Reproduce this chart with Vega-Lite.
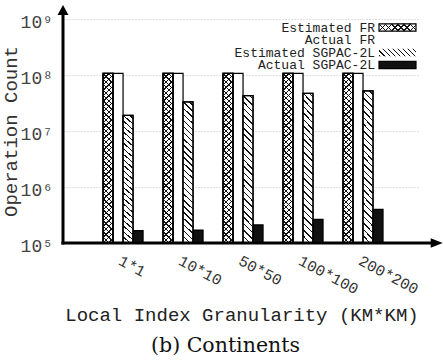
{
  "$schema": "https://vega.github.io/schema/vega-lite/v6.json",
  "width": 357,
  "height": 224,
  "autosize": "none",
  "padding": {"left": 63, "top": 19, "right": 23, "bottom": 117},
  "config": {
    "view": {"stroke": null},
    "font": "Liberation Mono",
    "legend": {
      "orient": "none",
      "legendX": 170,
      "direction": "vertical",
      "title": null,
      "padding": 0,
      "labelFont": "Liberation Mono",
      "labelFontSize": 13,
      "labelColor": "#222",
      "labelAlign": "right",
      "labelOffset": -29,
      "symbolOffset": 158,
      "symbolType": "M-5,-1H5V1H-5Z",
      "symbolSize": 54.76,
      "symbolStrokeColor": "#000",
      "symbolStrokeWidth": 1.2
    }
  },
  "title": {
    "text": "(b) Continents",
    "orient": "bottom",
    "anchor": "middle",
    "font": "DejaVu Serif",
    "fontSize": 20.5,
    "fontWeight": "normal",
    "color": "#111",
    "dx": -16,
    "offset": 12
  },
  "datasets": {
    "ops": [
      {"g": "1*1", "series": "Estimated FR", "value": 107000000},
      {"g": "1*1", "series": "Actual FR", "value": 107000000},
      {"g": "1*1", "series": "Estimated SGPAC-2L", "value": 19000000},
      {"g": "1*1", "series": "Actual SGPAC-2L", "value": 166000},
      {"g": "10*10", "series": "Estimated FR", "value": 107000000},
      {"g": "10*10", "series": "Actual FR", "value": 107000000},
      {"g": "10*10", "series": "Estimated SGPAC-2L", "value": 33000000},
      {"g": "10*10", "series": "Actual SGPAC-2L", "value": 170000},
      {"g": "50*50", "series": "Estimated FR", "value": 107000000},
      {"g": "50*50", "series": "Actual FR", "value": 107000000},
      {"g": "50*50", "series": "Estimated SGPAC-2L", "value": 43000000},
      {"g": "50*50", "series": "Actual SGPAC-2L", "value": 210000},
      {"g": "100*100", "series": "Estimated FR", "value": 107000000},
      {"g": "100*100", "series": "Actual FR", "value": 107000000},
      {"g": "100*100", "series": "Estimated SGPAC-2L", "value": 47000000},
      {"g": "100*100", "series": "Actual SGPAC-2L", "value": 265000},
      {"g": "200*200", "series": "Estimated FR", "value": 107000000},
      {"g": "200*200", "series": "Actual FR", "value": 107000000},
      {"g": "200*200", "series": "Estimated SGPAC-2L", "value": 52000000},
      {"g": "200*200", "series": "Actual SGPAC-2L", "value": 400000}
    ]
  },
  "layer": [
    {
      "data": {"name": "ops"},
      "encoding": {
        "x": {
          "field": "g",
          "type": "nominal",
          "sort": null,
          "scale": {"domain": ["1*1", "10*10", "50*50", "100*100", "200*200"], "paddingInner": 0.333, "paddingOuter": 0.642, "align": 0.52},
          "axis": {
            "title": "Local Index Granularity (KM*KM)",
            "titleFont": "Liberation Mono",
            "titleFontSize": 19,
            "titleFontWeight": "normal",
            "titleColor": "#222",
            "titleY": 77,
            "titleBaseline": "alphabetic",
            "labelAngle": 28,
            "labelAlign": "left",
            "labelBaseline": "top",
            "labelPadding": 10,
            "labelFont": "Liberation Mono",
            "labelFontSize": 15.5,
            "labelColor": "#333",
            "labelOverlap": false,
            "labelBound": false,
            "domain": false,
            "ticks": false,
            "grid": false
          }
        },
        "xOffset": {
          "field": "series",
          "type": "nominal",
          "scale": {"domain": ["Estimated FR", "Actual FR", "Estimated SGPAC-2L", "Actual SGPAC-2L"], "paddingInner": 0, "paddingOuter": 0}
        },
        "y": {
          "field": "value",
          "type": "quantitative",
          "scale": {"type": "log", "domain": [100000, 1000000000], "nice": false},
          "axis": {
            "title": "Operation Count",
            "titleFont": "Liberation Mono",
            "titleFontSize": 19,
            "titleFontWeight": "normal",
            "titleColor": "#333",
            "titleX": -53,
            "titleBaseline": "middle",
            "values": [100000, 1000000, 10000000, 100000000, 1000000000],
            "labelExpr": "'10' + ['⁰','¹','²','³','⁴','⁵','⁶','⁷','⁸','⁹'][round(log(datum.value) / LN10)]",
            "labelFont": "Liberation Mono",
            "labelFontSize": 18,
            "labelColor": "#444",
            "labelPadding": 10.5,
            "labelOffset": 3,
            "domain": false,
            "ticks": false,
            "tickSize": 0,
            "grid": true,
            "gridColor": "#b0b0b0",
            "gridDash": [1, 2],
            "gridWidth": 0.8
          }
        },
        "y2": {"datum": 100000}
      },
      "layer": [
        {
          "mark": {"type": "bar", "stroke": "#000", "strokeWidth": 1.2},
          "encoding": {
            "fill": {
              "field": "series",
              "type": "nominal",
              "scale": {"domain": ["Estimated FR", "Actual FR", "Estimated SGPAC-2L", "Actual SGPAC-2L"], "range": ["#fff", "#fff", "#fff", "#111"]},
              "legend": {"values": ["Actual SGPAC-2L"], "legendY": 39.5, "zindex": 1}
            }
          }
        },
        {
          "transform": [{"filter": "datum.series === 'Estimated SGPAC-2L'"}],
          "mark": {
            "type": "bar",
            "stroke": "#000",
            "strokeWidth": 1.2,
            "fill": {"gradient": "linear", "x1": 0, "y1": 1, "x2": 0.0743, "y2": -0.0776, "stops": [
              {"offset": 0, "color": "#111"}, {"offset": 0.0095, "color": "#111"}, {"offset": 0.0095, "color": "transparent"}, {"offset": 0.04, "color": "transparent"},
              {"offset": 0.04, "color": "#111"}, {"offset": 0.0495, "color": "#111"}, {"offset": 0.0495, "color": "transparent"}, {"offset": 0.08, "color": "transparent"},
              {"offset": 0.08, "color": "#111"}, {"offset": 0.0895, "color": "#111"}, {"offset": 0.0895, "color": "transparent"}, {"offset": 0.12, "color": "transparent"},
              {"offset": 0.12, "color": "#111"}, {"offset": 0.1295, "color": "#111"}, {"offset": 0.1295, "color": "transparent"}, {"offset": 0.16, "color": "transparent"},
              {"offset": 0.16, "color": "#111"}, {"offset": 0.1695, "color": "#111"}, {"offset": 0.1695, "color": "transparent"}, {"offset": 0.2, "color": "transparent"},
              {"offset": 0.2, "color": "#111"}, {"offset": 0.2095, "color": "#111"}, {"offset": 0.2095, "color": "transparent"}, {"offset": 0.24, "color": "transparent"},
              {"offset": 0.24, "color": "#111"}, {"offset": 0.2495, "color": "#111"}, {"offset": 0.2495, "color": "transparent"}, {"offset": 0.28, "color": "transparent"},
              {"offset": 0.28, "color": "#111"}, {"offset": 0.2895, "color": "#111"}, {"offset": 0.2895, "color": "transparent"}, {"offset": 0.32, "color": "transparent"},
              {"offset": 0.32, "color": "#111"}, {"offset": 0.3295, "color": "#111"}, {"offset": 0.3295, "color": "transparent"}, {"offset": 0.36, "color": "transparent"},
              {"offset": 0.36, "color": "#111"}, {"offset": 0.3695, "color": "#111"}, {"offset": 0.3695, "color": "transparent"}, {"offset": 0.4, "color": "transparent"},
              {"offset": 0.4, "color": "#111"}, {"offset": 0.4095, "color": "#111"}, {"offset": 0.4095, "color": "transparent"}, {"offset": 0.44, "color": "transparent"},
              {"offset": 0.44, "color": "#111"}, {"offset": 0.4495, "color": "#111"}, {"offset": 0.4495, "color": "transparent"}, {"offset": 0.48, "color": "transparent"},
              {"offset": 0.48, "color": "#111"}, {"offset": 0.4895, "color": "#111"}, {"offset": 0.4895, "color": "transparent"}, {"offset": 0.52, "color": "transparent"},
              {"offset": 0.52, "color": "#111"}, {"offset": 0.5295, "color": "#111"}, {"offset": 0.5295, "color": "transparent"}, {"offset": 0.56, "color": "transparent"},
              {"offset": 0.56, "color": "#111"}, {"offset": 0.5695, "color": "#111"}, {"offset": 0.5695, "color": "transparent"}, {"offset": 0.6, "color": "transparent"},
              {"offset": 0.6, "color": "#111"}, {"offset": 0.6095, "color": "#111"}, {"offset": 0.6095, "color": "transparent"}, {"offset": 0.64, "color": "transparent"},
              {"offset": 0.64, "color": "#111"}, {"offset": 0.6495, "color": "#111"}, {"offset": 0.6495, "color": "transparent"}, {"offset": 0.68, "color": "transparent"},
              {"offset": 0.68, "color": "#111"}, {"offset": 0.6895, "color": "#111"}, {"offset": 0.6895, "color": "transparent"}, {"offset": 0.72, "color": "transparent"},
              {"offset": 0.72, "color": "#111"}, {"offset": 0.7295, "color": "#111"}, {"offset": 0.7295, "color": "transparent"}, {"offset": 0.76, "color": "transparent"},
              {"offset": 0.76, "color": "#111"}, {"offset": 0.7695, "color": "#111"}, {"offset": 0.7695, "color": "transparent"}, {"offset": 0.8, "color": "transparent"},
              {"offset": 0.8, "color": "#111"}, {"offset": 0.8095, "color": "#111"}, {"offset": 0.8095, "color": "transparent"}, {"offset": 0.84, "color": "transparent"},
              {"offset": 0.84, "color": "#111"}, {"offset": 0.8495, "color": "#111"}, {"offset": 0.8495, "color": "transparent"}, {"offset": 0.88, "color": "transparent"},
              {"offset": 0.88, "color": "#111"}, {"offset": 0.8895, "color": "#111"}, {"offset": 0.8895, "color": "transparent"}, {"offset": 0.92, "color": "transparent"},
              {"offset": 0.92, "color": "#111"}, {"offset": 0.9295, "color": "#111"}, {"offset": 0.9295, "color": "transparent"}, {"offset": 0.96, "color": "transparent"},
              {"offset": 0.96, "color": "#111"}, {"offset": 0.9695, "color": "#111"}, {"offset": 0.9695, "color": "transparent"}, {"offset": 1, "color": "transparent"}
            ]}
          }
        },
        {
          "transform": [{"filter": "datum.series === 'Estimated FR'"}],
          "mark": {
            "type": "bar",
            "stroke": "#000",
            "strokeWidth": 1.2,
            "fill": {"gradient": "linear", "x1": 0, "y1": 1, "x2": 0.0628, "y2": -0.0669, "stops": [
              {"offset": 0, "color": "#111"}, {"offset": 0.0075, "color": "#111"}, {"offset": 0.0075, "color": "transparent"}, {"offset": 0.03, "color": "transparent"},
              {"offset": 0.03, "color": "#111"}, {"offset": 0.0375, "color": "#111"}, {"offset": 0.0375, "color": "transparent"}, {"offset": 0.06, "color": "transparent"},
              {"offset": 0.06, "color": "#111"}, {"offset": 0.0675, "color": "#111"}, {"offset": 0.0675, "color": "transparent"}, {"offset": 0.09, "color": "transparent"},
              {"offset": 0.09, "color": "#111"}, {"offset": 0.0975, "color": "#111"}, {"offset": 0.0975, "color": "transparent"}, {"offset": 0.12, "color": "transparent"},
              {"offset": 0.12, "color": "#111"}, {"offset": 0.1275, "color": "#111"}, {"offset": 0.1275, "color": "transparent"}, {"offset": 0.15, "color": "transparent"},
              {"offset": 0.15, "color": "#111"}, {"offset": 0.1575, "color": "#111"}, {"offset": 0.1575, "color": "transparent"}, {"offset": 0.18, "color": "transparent"},
              {"offset": 0.18, "color": "#111"}, {"offset": 0.1875, "color": "#111"}, {"offset": 0.1875, "color": "transparent"}, {"offset": 0.21, "color": "transparent"},
              {"offset": 0.21, "color": "#111"}, {"offset": 0.2175, "color": "#111"}, {"offset": 0.2175, "color": "transparent"}, {"offset": 0.24, "color": "transparent"},
              {"offset": 0.24, "color": "#111"}, {"offset": 0.2475, "color": "#111"}, {"offset": 0.2475, "color": "transparent"}, {"offset": 0.27, "color": "transparent"},
              {"offset": 0.27, "color": "#111"}, {"offset": 0.2775, "color": "#111"}, {"offset": 0.2775, "color": "transparent"}, {"offset": 0.3, "color": "transparent"},
              {"offset": 0.3, "color": "#111"}, {"offset": 0.3075, "color": "#111"}, {"offset": 0.3075, "color": "transparent"}, {"offset": 0.33, "color": "transparent"},
              {"offset": 0.33, "color": "#111"}, {"offset": 0.3375, "color": "#111"}, {"offset": 0.3375, "color": "transparent"}, {"offset": 0.36, "color": "transparent"},
              {"offset": 0.36, "color": "#111"}, {"offset": 0.3675, "color": "#111"}, {"offset": 0.3675, "color": "transparent"}, {"offset": 0.39, "color": "transparent"},
              {"offset": 0.39, "color": "#111"}, {"offset": 0.3975, "color": "#111"}, {"offset": 0.3975, "color": "transparent"}, {"offset": 0.42, "color": "transparent"},
              {"offset": 0.42, "color": "#111"}, {"offset": 0.4275, "color": "#111"}, {"offset": 0.4275, "color": "transparent"}, {"offset": 0.45, "color": "transparent"},
              {"offset": 0.45, "color": "#111"}, {"offset": 0.4575, "color": "#111"}, {"offset": 0.4575, "color": "transparent"}, {"offset": 0.48, "color": "transparent"},
              {"offset": 0.48, "color": "#111"}, {"offset": 0.4875, "color": "#111"}, {"offset": 0.4875, "color": "transparent"}, {"offset": 0.51, "color": "transparent"},
              {"offset": 0.51, "color": "#111"}, {"offset": 0.5175, "color": "#111"}, {"offset": 0.5175, "color": "transparent"}, {"offset": 0.54, "color": "transparent"},
              {"offset": 0.54, "color": "#111"}, {"offset": 0.5475, "color": "#111"}, {"offset": 0.5475, "color": "transparent"}, {"offset": 0.57, "color": "transparent"},
              {"offset": 0.57, "color": "#111"}, {"offset": 0.5775, "color": "#111"}, {"offset": 0.5775, "color": "transparent"}, {"offset": 0.6, "color": "transparent"},
              {"offset": 0.6, "color": "#111"}, {"offset": 0.6075, "color": "#111"}, {"offset": 0.6075, "color": "transparent"}, {"offset": 0.63, "color": "transparent"},
              {"offset": 0.63, "color": "#111"}, {"offset": 0.6375, "color": "#111"}, {"offset": 0.6375, "color": "transparent"}, {"offset": 0.66, "color": "transparent"},
              {"offset": 0.66, "color": "#111"}, {"offset": 0.6675, "color": "#111"}, {"offset": 0.6675, "color": "transparent"}, {"offset": 0.69, "color": "transparent"},
              {"offset": 0.69, "color": "#111"}, {"offset": 0.6975, "color": "#111"}, {"offset": 0.6975, "color": "transparent"}, {"offset": 0.72, "color": "transparent"},
              {"offset": 0.72, "color": "#111"}, {"offset": 0.7275, "color": "#111"}, {"offset": 0.7275, "color": "transparent"}, {"offset": 0.75, "color": "transparent"},
              {"offset": 0.75, "color": "#111"}, {"offset": 0.7575, "color": "#111"}, {"offset": 0.7575, "color": "transparent"}, {"offset": 0.78, "color": "transparent"},
              {"offset": 0.78, "color": "#111"}, {"offset": 0.7875, "color": "#111"}, {"offset": 0.7875, "color": "transparent"}, {"offset": 0.81, "color": "transparent"},
              {"offset": 0.81, "color": "#111"}, {"offset": 0.8175, "color": "#111"}, {"offset": 0.8175, "color": "transparent"}, {"offset": 0.84, "color": "transparent"},
              {"offset": 0.84, "color": "#111"}, {"offset": 0.8475, "color": "#111"}, {"offset": 0.8475, "color": "transparent"}, {"offset": 0.87, "color": "transparent"},
              {"offset": 0.87, "color": "#111"}, {"offset": 0.8775, "color": "#111"}, {"offset": 0.8775, "color": "transparent"}, {"offset": 0.9, "color": "transparent"},
              {"offset": 0.9, "color": "#111"}, {"offset": 0.9075, "color": "#111"}, {"offset": 0.9075, "color": "transparent"}, {"offset": 0.93, "color": "transparent"},
              {"offset": 0.93, "color": "#111"}, {"offset": 0.9375, "color": "#111"}, {"offset": 0.9375, "color": "transparent"}, {"offset": 0.96, "color": "transparent"},
              {"offset": 0.96, "color": "#111"}, {"offset": 0.9675, "color": "#111"}, {"offset": 0.9675, "color": "transparent"}, {"offset": 0.99, "color": "transparent"},
              {"offset": 0.99, "color": "#111"}, {"offset": 0.9975, "color": "#111"}, {"offset": 0.9975, "color": "transparent"}, {"offset": 1, "color": "transparent"}
            ]}
          }
        },
        {
          "transform": [{"filter": "datum.series === 'Estimated FR'"}],
          "mark": {
            "type": "bar",
            "stroke": "#000",
            "strokeWidth": 1.2,
            "fill": {"gradient": "linear", "x1": 0, "y1": 0, "x2": 0.0628, "y2": 1.0669, "stops": [
              {"offset": 0, "color": "#111"}, {"offset": 0.0075, "color": "#111"}, {"offset": 0.0075, "color": "transparent"}, {"offset": 0.03, "color": "transparent"},
              {"offset": 0.03, "color": "#111"}, {"offset": 0.0375, "color": "#111"}, {"offset": 0.0375, "color": "transparent"}, {"offset": 0.06, "color": "transparent"},
              {"offset": 0.06, "color": "#111"}, {"offset": 0.0675, "color": "#111"}, {"offset": 0.0675, "color": "transparent"}, {"offset": 0.09, "color": "transparent"},
              {"offset": 0.09, "color": "#111"}, {"offset": 0.0975, "color": "#111"}, {"offset": 0.0975, "color": "transparent"}, {"offset": 0.12, "color": "transparent"},
              {"offset": 0.12, "color": "#111"}, {"offset": 0.1275, "color": "#111"}, {"offset": 0.1275, "color": "transparent"}, {"offset": 0.15, "color": "transparent"},
              {"offset": 0.15, "color": "#111"}, {"offset": 0.1575, "color": "#111"}, {"offset": 0.1575, "color": "transparent"}, {"offset": 0.18, "color": "transparent"},
              {"offset": 0.18, "color": "#111"}, {"offset": 0.1875, "color": "#111"}, {"offset": 0.1875, "color": "transparent"}, {"offset": 0.21, "color": "transparent"},
              {"offset": 0.21, "color": "#111"}, {"offset": 0.2175, "color": "#111"}, {"offset": 0.2175, "color": "transparent"}, {"offset": 0.24, "color": "transparent"},
              {"offset": 0.24, "color": "#111"}, {"offset": 0.2475, "color": "#111"}, {"offset": 0.2475, "color": "transparent"}, {"offset": 0.27, "color": "transparent"},
              {"offset": 0.27, "color": "#111"}, {"offset": 0.2775, "color": "#111"}, {"offset": 0.2775, "color": "transparent"}, {"offset": 0.3, "color": "transparent"},
              {"offset": 0.3, "color": "#111"}, {"offset": 0.3075, "color": "#111"}, {"offset": 0.3075, "color": "transparent"}, {"offset": 0.33, "color": "transparent"},
              {"offset": 0.33, "color": "#111"}, {"offset": 0.3375, "color": "#111"}, {"offset": 0.3375, "color": "transparent"}, {"offset": 0.36, "color": "transparent"},
              {"offset": 0.36, "color": "#111"}, {"offset": 0.3675, "color": "#111"}, {"offset": 0.3675, "color": "transparent"}, {"offset": 0.39, "color": "transparent"},
              {"offset": 0.39, "color": "#111"}, {"offset": 0.3975, "color": "#111"}, {"offset": 0.3975, "color": "transparent"}, {"offset": 0.42, "color": "transparent"},
              {"offset": 0.42, "color": "#111"}, {"offset": 0.4275, "color": "#111"}, {"offset": 0.4275, "color": "transparent"}, {"offset": 0.45, "color": "transparent"},
              {"offset": 0.45, "color": "#111"}, {"offset": 0.4575, "color": "#111"}, {"offset": 0.4575, "color": "transparent"}, {"offset": 0.48, "color": "transparent"},
              {"offset": 0.48, "color": "#111"}, {"offset": 0.4875, "color": "#111"}, {"offset": 0.4875, "color": "transparent"}, {"offset": 0.51, "color": "transparent"},
              {"offset": 0.51, "color": "#111"}, {"offset": 0.5175, "color": "#111"}, {"offset": 0.5175, "color": "transparent"}, {"offset": 0.54, "color": "transparent"},
              {"offset": 0.54, "color": "#111"}, {"offset": 0.5475, "color": "#111"}, {"offset": 0.5475, "color": "transparent"}, {"offset": 0.57, "color": "transparent"},
              {"offset": 0.57, "color": "#111"}, {"offset": 0.5775, "color": "#111"}, {"offset": 0.5775, "color": "transparent"}, {"offset": 0.6, "color": "transparent"},
              {"offset": 0.6, "color": "#111"}, {"offset": 0.6075, "color": "#111"}, {"offset": 0.6075, "color": "transparent"}, {"offset": 0.63, "color": "transparent"},
              {"offset": 0.63, "color": "#111"}, {"offset": 0.6375, "color": "#111"}, {"offset": 0.6375, "color": "transparent"}, {"offset": 0.66, "color": "transparent"},
              {"offset": 0.66, "color": "#111"}, {"offset": 0.6675, "color": "#111"}, {"offset": 0.6675, "color": "transparent"}, {"offset": 0.69, "color": "transparent"},
              {"offset": 0.69, "color": "#111"}, {"offset": 0.6975, "color": "#111"}, {"offset": 0.6975, "color": "transparent"}, {"offset": 0.72, "color": "transparent"},
              {"offset": 0.72, "color": "#111"}, {"offset": 0.7275, "color": "#111"}, {"offset": 0.7275, "color": "transparent"}, {"offset": 0.75, "color": "transparent"},
              {"offset": 0.75, "color": "#111"}, {"offset": 0.7575, "color": "#111"}, {"offset": 0.7575, "color": "transparent"}, {"offset": 0.78, "color": "transparent"},
              {"offset": 0.78, "color": "#111"}, {"offset": 0.7875, "color": "#111"}, {"offset": 0.7875, "color": "transparent"}, {"offset": 0.81, "color": "transparent"},
              {"offset": 0.81, "color": "#111"}, {"offset": 0.8175, "color": "#111"}, {"offset": 0.8175, "color": "transparent"}, {"offset": 0.84, "color": "transparent"},
              {"offset": 0.84, "color": "#111"}, {"offset": 0.8475, "color": "#111"}, {"offset": 0.8475, "color": "transparent"}, {"offset": 0.87, "color": "transparent"},
              {"offset": 0.87, "color": "#111"}, {"offset": 0.8775, "color": "#111"}, {"offset": 0.8775, "color": "transparent"}, {"offset": 0.9, "color": "transparent"},
              {"offset": 0.9, "color": "#111"}, {"offset": 0.9075, "color": "#111"}, {"offset": 0.9075, "color": "transparent"}, {"offset": 0.93, "color": "transparent"},
              {"offset": 0.93, "color": "#111"}, {"offset": 0.9375, "color": "#111"}, {"offset": 0.9375, "color": "transparent"}, {"offset": 0.96, "color": "transparent"},
              {"offset": 0.96, "color": "#111"}, {"offset": 0.9675, "color": "#111"}, {"offset": 0.9675, "color": "transparent"}, {"offset": 0.99, "color": "transparent"},
              {"offset": 0.99, "color": "#111"}, {"offset": 0.9975, "color": "#111"}, {"offset": 0.9975, "color": "transparent"}, {"offset": 1, "color": "transparent"}
            ]}
          }
        },
        {
          "transform": [{"filter": "datum.series === 'Estimated FR'"}],
          "mark": {
            "type": "bar",
            "stroke": "#000",
            "strokeWidth": 1.2,
            "fill": {"gradient": "linear", "x1": 0, "y1": 1, "x2": 1.154, "y2": 0.769, "stops": [
              {"offset": 0, "color": "#111"}, {"offset": 0.035, "color": "#111"}, {"offset": 0.035, "color": "#fff"}, {"offset": 0.14, "color": "#fff"},
              {"offset": 0.14, "color": "#111"}, {"offset": 0.175, "color": "#111"}, {"offset": 0.175, "color": "#fff"}, {"offset": 0.28, "color": "#fff"},
              {"offset": 0.28, "color": "#111"}, {"offset": 0.315, "color": "#111"}, {"offset": 0.315, "color": "#fff"}, {"offset": 0.42, "color": "#fff"},
              {"offset": 0.42, "color": "#111"}, {"offset": 0.455, "color": "#111"}, {"offset": 0.455, "color": "#fff"}, {"offset": 0.56, "color": "#fff"},
              {"offset": 0.56, "color": "#111"}, {"offset": 0.595, "color": "#111"}, {"offset": 0.595, "color": "#fff"}, {"offset": 0.7, "color": "#fff"},
              {"offset": 0.7, "color": "#111"}, {"offset": 0.735, "color": "#111"}, {"offset": 0.735, "color": "#fff"}, {"offset": 0.84, "color": "#fff"},
              {"offset": 0.84, "color": "#111"}, {"offset": 0.875, "color": "#111"}, {"offset": 0.875, "color": "#fff"}, {"offset": 0.98, "color": "#fff"},
              {"offset": 0.98, "color": "#111"}, {"offset": 1, "color": "#111"}
            ]}
          },
          "encoding": {
            "y": {"datum": 100000, "type": "quantitative"},
            "y2": {"datum": 100000},
            "stroke": {
              "field": "series",
              "type": "nominal",
              "scale": {"domain": ["Estimated FR"], "range": ["#000"]},
              "legend": {"legendY": 2, "zindex": 2}
            }
          }
        },
        {
          "transform": [{"filter": "datum.series === 'Estimated FR' && datum.g === '1*1'"}],
          "mark": {
            "type": "bar",
            "stroke": "#000",
            "strokeWidth": 1.2,
            "fill": {"gradient": "linear", "x1": 0, "y1": 0, "x2": 1.154, "y2": 0.2308, "stops": [
              {"offset": 0, "color": "#111"}, {"offset": 0.035, "color": "#111"}, {"offset": 0.035, "color": "transparent"}, {"offset": 0.14, "color": "transparent"},
              {"offset": 0.14, "color": "#111"}, {"offset": 0.175, "color": "#111"}, {"offset": 0.175, "color": "transparent"}, {"offset": 0.28, "color": "transparent"},
              {"offset": 0.28, "color": "#111"}, {"offset": 0.315, "color": "#111"}, {"offset": 0.315, "color": "transparent"}, {"offset": 0.42, "color": "transparent"},
              {"offset": 0.42, "color": "#111"}, {"offset": 0.455, "color": "#111"}, {"offset": 0.455, "color": "transparent"}, {"offset": 0.56, "color": "transparent"},
              {"offset": 0.56, "color": "#111"}, {"offset": 0.595, "color": "#111"}, {"offset": 0.595, "color": "transparent"}, {"offset": 0.7, "color": "transparent"},
              {"offset": 0.7, "color": "#111"}, {"offset": 0.735, "color": "#111"}, {"offset": 0.735, "color": "transparent"}, {"offset": 0.84, "color": "transparent"},
              {"offset": 0.84, "color": "#111"}, {"offset": 0.875, "color": "#111"}, {"offset": 0.875, "color": "transparent"}, {"offset": 0.98, "color": "transparent"},
              {"offset": 0.98, "color": "#111"}, {"offset": 1, "color": "#111"}
            ]}
          },
          "encoding": {
            "y": {"datum": 100000, "type": "quantitative"},
            "y2": {"datum": 100000},
            "strokeWidth": {
              "field": "g",
              "type": "nominal",
              "scale": {"domain": ["1*1"], "range": [1.2, 1.2]},
              "legend": {"legendY": 2, "zindex": 3, "labelExpr": "''"}
            }
          }
        },
        {
          "transform": [{"filter": "datum.series === 'Actual FR' && datum.g === '10*10'"}],
          "mark": {"type": "bar", "stroke": "#000", "strokeWidth": 1.2, "fill": "#fff"},
          "encoding": {
            "y": {"datum": 100000, "type": "quantitative"},
            "y2": {"datum": 100000},
            "opacity": {
              "field": "g",
              "type": "nominal",
              "scale": {"domain": ["10*10"], "range": [1, 1]},
              "legend": {"legendY": 14.5, "zindex": 2, "labelExpr": "'Actual FR'"}
            }
          }
        },
        {
          "transform": [{"filter": "datum.series === 'Estimated SGPAC-2L'"}],
          "mark": {
            "type": "bar",
            "stroke": "#000",
            "strokeWidth": 1.2,
            "fill": {"gradient": "linear", "x1": 0, "y1": 1, "x2": 1.154, "y2": 0.769, "stops": [
              {"offset": 0, "color": "#111"}, {"offset": 0.03, "color": "#111"}, {"offset": 0.03, "color": "#fff"}, {"offset": 0.115, "color": "#fff"},
              {"offset": 0.115, "color": "#111"}, {"offset": 0.145, "color": "#111"}, {"offset": 0.145, "color": "#fff"}, {"offset": 0.23, "color": "#fff"},
              {"offset": 0.23, "color": "#111"}, {"offset": 0.26, "color": "#111"}, {"offset": 0.26, "color": "#fff"}, {"offset": 0.345, "color": "#fff"},
              {"offset": 0.345, "color": "#111"}, {"offset": 0.375, "color": "#111"}, {"offset": 0.375, "color": "#fff"}, {"offset": 0.46, "color": "#fff"},
              {"offset": 0.46, "color": "#111"}, {"offset": 0.49, "color": "#111"}, {"offset": 0.49, "color": "#fff"}, {"offset": 0.575, "color": "#fff"},
              {"offset": 0.575, "color": "#111"}, {"offset": 0.605, "color": "#111"}, {"offset": 0.605, "color": "#fff"}, {"offset": 0.69, "color": "#fff"},
              {"offset": 0.69, "color": "#111"}, {"offset": 0.72, "color": "#111"}, {"offset": 0.72, "color": "#fff"}, {"offset": 0.805, "color": "#fff"},
              {"offset": 0.805, "color": "#111"}, {"offset": 0.835, "color": "#111"}, {"offset": 0.835, "color": "#fff"}, {"offset": 0.92, "color": "#fff"},
              {"offset": 0.92, "color": "#111"}, {"offset": 0.95, "color": "#111"}, {"offset": 0.95, "color": "#fff"}, {"offset": 1, "color": "#fff"}
            ]}
          },
          "encoding": {
            "y": {"datum": 100000, "type": "quantitative"},
            "y2": {"datum": 100000},
            "strokeDash": {
              "field": "series",
              "type": "nominal",
              "scale": {"domain": ["Estimated SGPAC-2L"], "range": [[1, 0]]},
              "legend": {"legendY": 27, "zindex": 2}
            }
          }
        }
      ]
    },
    {
      "data": {"values": [{"axisline": "frame"}]},
      "encoding": {
        "x": {"datum": 0, "type": "quantitative", "scale": {"domain": [0, 1], "nice": false, "zero": false}, "axis": null},
        "y": {"datum": 100000, "type": "quantitative", "scale": {"type": "log", "domain": [100000, 1000000000], "nice": false}}
      },
      "layer": [
        {
          "mark": {"type": "rule", "color": "#000", "strokeWidth": 3, "strokeCap": "square"},
          "encoding": {"y2": {"datum": 1300000000}}
        },
        {
          "mark": {"type": "rule", "color": "#000", "strokeWidth": 3, "strokeCap": "square"},
          "encoding": {"x2": {"datum": 1.035}}
        },
        {
          "mark": {"type": "point", "shape": "M0,-1L1.1,1L-1.1,1Z", "size": 100, "filled": true, "color": "#000", "opacity": 1},
          "encoding": {"y": {"datum": 1448000000, "type": "quantitative"}}
        },
        {
          "mark": {"type": "point", "shape": "M-1,-0.8L1,0L-1,0.8Z", "size": 144, "filled": true, "color": "#000", "opacity": 1},
          "encoding": {"x": {"datum": 1.0468, "type": "quantitative"}}
        }
      ]
    }
  ],
  "resolve": {"scale": {"x": "independent"}}
}
